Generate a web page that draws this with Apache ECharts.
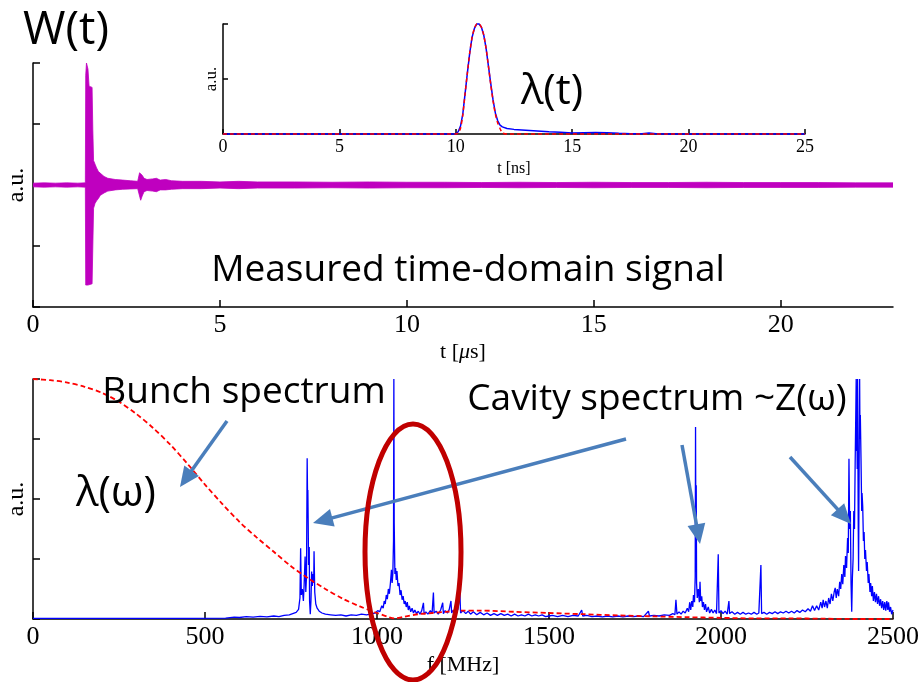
<!DOCTYPE html>
<html>
<head>
<meta charset="utf-8">
<script src="https://cdn.jsdelivr.net/npm/echarts@6/dist/echarts.min.js"></script>
<style>html,body{margin:0;padding:0;background:#fff;}#c{width:918px;height:682px;}</style>
</head>
<body>
<div id="c"></div>
<script>
// ---------- DATA ----------
// Measured time-domain wake signal W(t): envelope (a.u.) vs t [us]
var wTime  = [0, 0.3, 0.6, 0.9, 1.2, 1.40, 1.41, 1.43, 1.47, 1.50, 1.58, 1.60, 1.62, 1.66, 1.70, 1.75, 1.80, 1.90, 2.00, 2.20, 2.40, 2.60, 2.80, 2.85, 2.88, 2.92, 2.97, 3.05, 3.20, 3.30, 3.40, 3.55, 3.70, 4.0, 4.5, 5.0, 5.5, 6.0, 7.0, 8.0, 9.0, 10, 11, 12, 13, 14, 15, 16, 17, 18, 19, 20, 21, 22, 23];
var wUpper = [0.03, 0.035, 0.03, 0.035, 0.03, 0.035, 1.80, 2.00, 1.90, 1.62, 1.60, 0.90, 0.40, 0.34, 0.28, 0.22, 0.19, 0.14, 0.11, 0.09, 0.08, 0.07, 0.06, 0.20, 0.22, 0.16, 0.11, 0.09, 0.10, 0.11, 0.08, 0.09, 0.07, 0.06, 0.06, 0.05, 0.06, 0.05, 0.05, 0.045, 0.05, 0.045, 0.045, 0.04, 0.045, 0.04, 0.045, 0.04, 0.04, 0.045, 0.04, 0.04, 0.04, 0.035, 0.035];
var wLower = [-0.03, -0.035, -0.03, -0.035, -0.03, -0.035, -1.64, -1.67, -1.64, -1.64, -1.62, -1.00, -0.38, -0.30, -0.26, -0.22, -0.17, -0.13, -0.10, -0.08, -0.07, -0.065, -0.06, -0.18, -0.25, -0.18, -0.11, -0.09, -0.10, -0.11, -0.08, -0.08, -0.07, -0.06, -0.06, -0.05, -0.06, -0.05, -0.05, -0.045, -0.05, -0.045, -0.045, -0.04, -0.045, -0.04, -0.045, -0.04, -0.04, -0.045, -0.04, -0.04, -0.04, -0.035, -0.035];

// Inset: bunch profile lambda(t), t [ns]
var lamTime     = [0, 9.0, 10.0, 10.1, 10.2, 10.3, 10.4, 10.5, 10.6, 10.7, 10.8, 10.9, 11.0, 11.1, 11.2, 11.3, 11.4, 11.5, 11.6, 11.7, 11.8, 11.9, 12.0, 12.2, 12.5, 13.0, 13.5, 14.0, 14.5, 15.0, 15.5, 16.0, 16.5, 17.0, 17.5, 18.0, 18.3, 18.6, 19.0, 25];
var lamMeasured = [0, 0, 0.0, 0.02, 0.07, 0.18, 0.37, 0.56, 0.74, 0.88, 0.96, 1.0, 1.0, 0.97, 0.90, 0.78, 0.62, 0.46, 0.31, 0.19, 0.12, 0.08, 0.065, 0.05, 0.042, 0.035, 0.028, 0.02, 0.015, 0.01, 0.012, 0.014, 0.012, 0.006, 0.003, 0.002, 0.008, 0.002, 0, 0];
var lamFit      = [0, 0, 0.0, 0.01, 0.05, 0.17, 0.37, 0.56, 0.74, 0.88, 0.96, 1.0, 1.0, 0.97, 0.90, 0.78, 0.62, 0.45, 0.30, 0.18, 0.10, 0.05, 0.01, 0, 0, 0, 0, 0, 0, 0, 0, 0, 0, 0, 0, 0, 0, 0, 0, 0];

// Bunch spectrum lambda(omega), f [MHz]
var bunchFreq = [0, 50, 100, 150, 200, 250, 300, 350, 400, 450, 500, 550, 600, 650, 700, 750, 800, 850, 900, 950, 1000, 1030, 1050, 1080, 1120, 1160, 1200, 1250, 1300, 1400, 1500, 1600, 1700, 1800, 1900, 2000, 2100, 2200, 2300, 2400, 2500];
var bunchAmp  = [4.0, 3.98, 3.94, 3.87, 3.77, 3.62, 3.42, 3.18, 2.90, 2.58, 2.24, 1.92, 1.62, 1.36, 1.12, 0.88, 0.68, 0.50, 0.34, 0.21, 0.10, 0.04, 0.01, 0.04, 0.08, 0.10, 0.12, 0.14, 0.14, 0.12, 0.10, 0.08, 0.06, 0.045, 0.03, 0.02, 0.01, 0.01, 0.005, 0.0, 0.0];

// Cavity (measured) spectrum ~Z(omega): [f MHz, amplitude]
var cavitySpectrum = [[0,0.01],[150,0.01],[300,0.012],[450,0.012],[560,0.015],[585,0.03],[600,0.025],[620,0.04],[640,0.03],[660,0.045],[680,0.035],[700,0.05],[715,0.04],[730,0.06],[745,0.07],[755,0.09],[765,0.11],[772,0.16],[776,0.35],[778,1.18],[780,0.4],[783,0.5],[786,0.3],[788,0.55],[791,1.04],[793,0.45],[795,0.7],[797,2.68],[798,2.1],[799,2.15],[800,1.6],[801,0.9],[803,1.2],[804,0.3],[806,0.08],[808,0.3],[810,0.79],[812,0.55],[814,0.75],[816,0.6],[817,1.13],[819,0.45],[822,0.25],[826,0.18],[832,0.13],[840,0.1],[850,0.08],[865,0.07],[880,0.06],[895,0.07],[910,0.05],[925,0.07],[940,0.06],[955,0.08],[970,0.07],[985,0.09],[995,0.1],[1002,0.14],[1008,0.12],[1014,0.22],[1018,0.18],[1021,0.3],[1024,0.25],[1027,0.4],[1030,0.33],[1033,0.5],[1036,0.42],[1039,0.6],[1042,0.82],[1044,0.6],[1046,0.75],[1048,1.3],[1049,4.0],[1050,1.6],[1052,0.75],[1054,0.85],[1056,0.65],[1058,0.8],[1061,0.55],[1064,0.6],[1067,0.4],[1070,0.48],[1073,0.32],[1076,0.38],[1079,0.25],[1082,0.3],[1085,0.2],[1088,0.28],[1091,0.15],[1094,0.22],[1098,0.12],[1102,0.18],[1106,0.1],[1110,0.15],[1115,0.09],[1120,0.13],[1125,0.08],[1130,0.14],[1135,0.27],[1137,0.08],[1142,0.12],[1148,0.08],[1155,0.14],[1160,0.09],[1164,0.44],[1166,0.1],[1172,0.13],[1178,0.08],[1185,0.15],[1191,0.27],[1193,0.09],[1198,0.14],[1205,0.1],[1210,0.16],[1215,0.3],[1217,0.1],[1222,0.15],[1228,0.09],[1235,0.16],[1241,0.43],[1243,0.1],[1250,0.14],[1258,0.09],[1265,0.13],[1272,0.08],[1280,0.12],[1290,0.07],[1300,0.11],[1310,0.07],[1320,0.1],[1330,0.06],[1340,0.09],[1350,0.06],[1360,0.09],[1370,0.06],[1380,0.08],[1390,0.05],[1400,0.08],[1410,0.05],[1420,0.07],[1430,0.05],[1440,0.08],[1450,0.05],[1460,0.07],[1470,0.05],[1480,0.07],[1490,0.04],[1500,0.05],[1510,0.06],[1525,0.04],[1540,0.06],[1555,0.04],[1570,0.06],[1585,0.05],[1595,0.15],[1598,0.05],[1610,0.06],[1625,0.04],[1640,0.05],[1655,0.035],[1670,0.05],[1685,0.035],[1700,0.05],[1715,0.035],[1730,0.05],[1745,0.04],[1760,0.05],[1775,0.04],[1789,0.13],[1792,0.05],[1805,0.06],[1820,0.05],[1835,0.07],[1850,0.06],[1860,0.09],[1866,0.07],[1869,0.32],[1872,0.08],[1878,0.12],[1884,0.08],[1890,0.13],[1896,0.1],[1902,0.18],[1906,0.12],[1909,0.28],[1912,0.15],[1915,0.3],[1918,0.2],[1920,0.4],[1923,0.28],[1925,0.7],[1926,3.2],[1927,1.2],[1928,2.23],[1929,0.6],[1931,0.35],[1934,0.5],[1937,0.28],[1939,0.62],[1941,0.3],[1944,0.38],[1946,0.2],[1949,0.28],[1952,0.15],[1955,0.25],[1958,0.12],[1963,0.2],[1967,0.1],[1972,0.16],[1977,0.1],[1982,0.15],[1987,0.09],[1992,1.08],[1994,0.1],[2000,0.14],[2006,0.09],[2012,0.13],[2018,0.08],[2023,0.3],[2025,0.09],[2032,0.12],[2040,0.08],[2048,0.11],[2056,0.08],[2064,0.11],[2072,0.08],[2080,0.1],[2088,0.08],[2096,0.11],[2104,0.08],[2110,0.1],[2116,0.9],[2118,0.09],[2125,0.11],[2133,0.08],[2141,0.11],[2149,0.09],[2157,0.12],[2165,0.09],[2173,0.12],[2181,0.1],[2189,0.13],[2197,0.1],[2205,0.13],[2213,0.1],[2221,0.14],[2229,0.11],[2237,0.15],[2245,0.12],[2253,0.17],[2260,0.13],[2266,0.22],[2272,0.14],[2278,0.22],[2284,0.15],[2290,0.28],[2294,0.18],[2297,0.32],[2301,0.2],[2305,0.3],[2309,0.18],[2313,0.35],[2317,0.25],[2321,0.42],[2325,0.3],[2329,0.45],[2332,0.52],[2335,0.35],[2338,0.5],[2342,0.38],[2345,0.62],[2348,0.5],[2351,0.75],[2354,0.58],[2357,0.9],[2360,0.7],[2362,1.05],[2365,0.85],[2368,1.35],[2370,1.1],[2372,2.67],[2374,1.5],[2376,1.8],[2378,0.6],[2380,0.12],[2382,0.7],[2384,1.0],[2386,1.8],[2388,1.5],[2390,2.6],[2392,3.5],[2393,4.0],[2394,2.8],[2395,3.4],[2396,2.5],[2397,4.0],[2399,1.5],[2400,0.8],[2401,2.0],[2403,4.0],[2404,3.0],[2405,3.4],[2407,2.67],[2409,1.8],[2410,2.1],[2412,1.87],[2414,1.3],[2416,1.45],[2418,1.0],[2420,1.15],[2423,0.8],[2425,0.95],[2428,0.6],[2430,0.75],[2433,0.45],[2435,0.6],[2438,0.38],[2440,0.55],[2443,0.3],[2446,0.45],[2449,0.28],[2452,0.42],[2455,0.25],[2458,0.38],[2461,0.22],[2464,0.33],[2467,0.18],[2470,0.3],[2473,0.15],[2476,0.28],[2479,0.14],[2482,0.3],[2485,0.15],[2487,0.28],[2490,0.12],[2493,0.2],[2496,0.08],[2500,0.15]];

// ---------- CHART ----------
var serif = '"Liberation Serif", "DejaVu Serif", serif';
var sans = '"Open Sans", "Noto Sans", sans-serif';
var axisLineStyle = {color: '#000', width: 1.5};

function zip(a, b) { return a.map(function (v, i) { return [v, b[i]]; }); }

function xAx(grid, min, max, interval, fs, name, gap, nfs, showMax) {
  return {
    gridIndex: grid, type: 'value', min: min, max: max, interval: interval,
    axisLine: {show: true, onZero: false, lineStyle: axisLineStyle},
    axisTick: {show: true, inside: true, length: fs > 20 ? 7 : 5, lineStyle: axisLineStyle},
    splitLine: {show: false},
    axisLabel: {fontFamily: serif, fontSize: fs, color: '#000', margin: fs > 20 ? 5 : 4, showMaxLabel: showMax,
      formatter: function (v) { return String(v); }},
    name: name, nameLocation: 'middle', nameGap: gap,
    nameTextStyle: {fontFamily: serif, fontSize: nfs, color: '#000',
      rich: {i: {fontFamily: serif, fontStyle: 'italic', fontSize: nfs, color: '#000'}}}
  };
}
function yAx(grid, min, max, interval, gap, nfs) {
  return {
    gridIndex: grid, type: 'value', min: min, max: max, interval: interval,
    axisLine: {show: true, onZero: false, lineStyle: axisLineStyle},
    axisTick: {show: true, inside: true, length: nfs > 20 ? 7 : 5, lineStyle: axisLineStyle},
    splitLine: {show: false},
    axisLabel: {show: false},
    name: 'a.u.', nameLocation: 'middle', nameGap: gap, nameRotate: 90,
    nameTextStyle: {fontFamily: serif, fontSize: nfs, color: '#000'}
  };
}

function arrow(x1, y1, x2, y2) {
  var dx = x2 - x1, dy = y2 - y1, L = Math.sqrt(dx * dx + dy * dy);
  var ux = dx / L, uy = dy / L, hl = 20, hw = 9;
  var bx = x2 - ux * hl, by = y2 - uy * hl;
  var col = '#4A7EBB';
  return [
    {type: 'line', shape: {x1: x1, y1: y1, x2: bx + ux * 2, y2: by + uy * 2}, style: {stroke: col, lineWidth: 3.5}, z: 100},
    {type: 'polygon', shape: {points: [[x2, y2], [bx - uy * hw, by + ux * hw], [bx + uy * hw, by - ux * hw]]}, style: {fill: col}, z: 100}
  ];
}
function label(text, x, y, fs) {
  return {type: 'text', x: x, y: y, z: 110,
    style: {text: text, fontFamily: sans, fontSize: fs, fill: '#000', align: 'center', verticalAlign: 'top'}};
}

var graphics = [].concat(
  [label('W(t)', 66, 8, 46),
   label('λ(t)', 552, 71, 42),
   label('Measured time-domain signal', 468, 252, 37),
   label('Bunch spectrum', 244, 374, 37),
   label('Cavity spectrum ~Z(ω)', 657, 381, 37),
   label('λ(ω)', 116, 473, 42)],
  arrow(227, 421, 180, 487),
  arrow(626, 439, 313, 523),
  arrow(682, 445, 700, 544),
  arrow(790, 457, 851, 524),
  [{type: 'ellipse', shape: {cx: 413, cy: 552, rx: 48, ry: 128}, style: {fill: 'none', stroke: '#C00000', lineWidth: 5}, z: 105}]
);

var chart = echarts.init(document.getElementById('c'), null, {renderer: 'canvas'});
chart.setOption({
  animation: false,
  backgroundColor: '#fff',
  grid: [
    {left: 33, top: 63, width: 860, height: 244, containLabel: false, outerBoundsMode: 'none'},
    {left: 223, top: 24, width: 582, height: 110, containLabel: false, outerBoundsMode: 'none'},
    {left: 33, top: 379, width: 860, height: 240, containLabel: false, outerBoundsMode: 'none'}
  ],
  xAxis: [
    xAx(0, 0, 23, 5, 26, 't [{i|μ}s]', 34, 22, false),
    xAx(1, 0, 25, 5, 18, 't [ns]', 27, 16, true),
    xAx(2, 0, 2500, 500, 26, 'f [MHz]', 35, 22, true)
  ],
  yAxis: [
    yAx(0, -2, 2, 1, 4, 24),
    yAx(1, 0, 1, 0.5, 3, 17),
    yAx(2, 0, 4, 1, 4, 24)
  ],
  series: [
    {type: 'line', xAxisIndex: 0, yAxisIndex: 0, data: zip(wTime, wUpper), showSymbol: false, symbol: 'none',
     lineStyle: {color: '#BF00BF', width: 0.8}, areaStyle: {color: '#BF00BF', opacity: 1}},
    {type: 'line', xAxisIndex: 0, yAxisIndex: 0, data: zip(wTime, wLower), showSymbol: false, symbol: 'none',
     lineStyle: {color: '#BF00BF', width: 0.8}, areaStyle: {color: '#BF00BF', opacity: 1}},
    {type: 'line', xAxisIndex: 1, yAxisIndex: 1, data: zip(lamTime, lamMeasured), showSymbol: false, symbol: 'none', clip: false, z: 5,
     lineStyle: {color: '#0000FF', width: 1.5}},
    {type: 'line', xAxisIndex: 1, yAxisIndex: 1, data: zip(lamTime, lamFit), showSymbol: false, symbol: 'none', smooth: 0.2, clip: false, z: 6,
     lineStyle: {color: '#FF0000', width: 1.5, type: [4, 3]}},
    {type: 'line', xAxisIndex: 2, yAxisIndex: 2, data: cavitySpectrum, showSymbol: false, symbol: 'none', clip: false, z: 5,
     lineStyle: {color: '#0000FF', width: 1.3}},
    {type: 'line', xAxisIndex: 2, yAxisIndex: 2, data: zip(bunchFreq, bunchAmp), showSymbol: false, symbol: 'none', smooth: 0.3, clip: false, z: 6,
     lineStyle: {color: '#FF0000', width: 1.8, type: [5, 3]}}
  ],
  graphic: graphics
});
</script>
</body>
</html>
